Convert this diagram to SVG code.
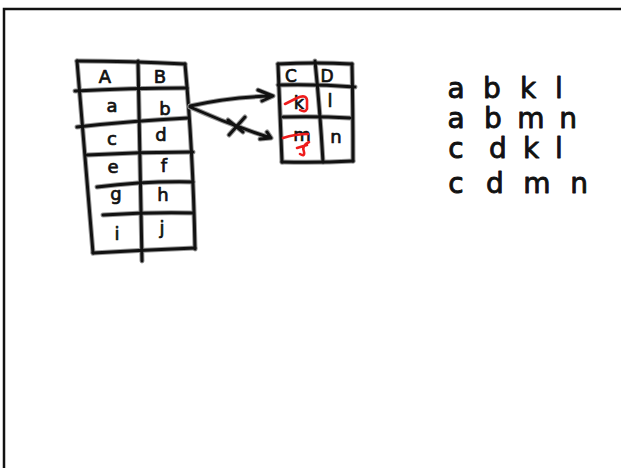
<svg xmlns="http://www.w3.org/2000/svg" width="621" height="468" viewBox="0 0 621 468">
<style>
.ln{fill:none;stroke:#111;stroke-width:3;stroke-linecap:round;stroke-linejoin:round}
.halo{fill:none;stroke:#9a9a9a;stroke-width:5;stroke-linecap:round;stroke-linejoin:round}
.red{fill:none;stroke:#ee1c1c;stroke-width:2.6;stroke-linecap:round;stroke-linejoin:round}
.t{font-family:"DejaVu Sans",sans-serif;fill:#111;stroke:#111;stroke-width:0.7;stroke-linejoin:round;text-anchor:middle}
.s{font-size:18px}
.m{font-size:17px}
.b{font-size:28px;stroke-width:0.9}
</style>
<rect width="621" height="468" fill="#fff"/>
<path d="M4,468 L4,9 L621,9" fill="none" stroke="#111" stroke-width="2.5"/>

<g id="tableAB">
  <g class="halo">
    <path d="M77,61 Q85,160 93,253"/><path d="M77,61 Q130,61 185,64"/><path d="M185,64 Q193,150 195,249"/><path d="M93,253 Q145,250 195,248"/>
    <path d="M138,61 Q140,160 142,261"/>
    <path d="M75,91 Q130,88 187,88"/><path d="M77,127 Q130,121 188,118"/><path d="M87,155 Q140,152 193,152"/><path d="M97,187 Q145,181 193,182"/><path d="M103,215 Q150,212 193,213"/>
  </g>
  <g class="ln">
    <path d="M77,61 Q85,160 93,253"/><path d="M77,61 Q130,61 185,64"/><path d="M185,64 Q193,150 195,249"/><path d="M93,253 Q145,250 195,248"/>
    <path d="M138,61 Q140,160 142,261"/>
    <path d="M75,91 Q130,88 187,88"/><path d="M77,127 Q130,121 188,118"/><path d="M87,155 Q140,152 193,152"/><path d="M97,187 Q145,181 193,182"/><path d="M103,215 Q150,212 193,213"/>
  </g>
  <text class="t s" x="105" y="83">A</text><text class="t s" x="160" y="83">B</text>
  <text class="t s" x="112" y="112">a</text><text class="t s" x="165" y="115">b</text>
  <text class="t s" x="112" y="145">c</text><text class="t s" x="161" y="141">d</text>
  <text class="t s" x="113" y="173">e</text><text class="t s" x="164" y="172">f</text>
  <text class="t s" x="116" y="200">g</text><text class="t s" x="163" y="201">h</text>
  <text class="t s" x="117" y="240">i</text><text class="t s" x="162" y="234">j</text>
</g>

<g id="tableCD">
  <g class="halo">
    <path d="M278,64 Q280,110 282,162"/><path d="M278,64 Q315,62 352,64"/><path d="M352,64 Q353,110 353,161"/><path d="M282,162 Q318,163 353,161"/>
    <path d="M315,61 Q320,110 323,162"/>
    <path d="M278,85 Q318,84 355,87"/><path d="M283,117 Q318,116 350,118"/>
  </g>
  <g class="ln">
    <path d="M278,64 Q280,110 282,162"/><path d="M278,64 Q315,62 352,64"/><path d="M352,64 Q353,110 353,161"/><path d="M282,162 Q318,163 353,161"/>
    <path d="M315,61 Q320,110 323,162"/>
    <path d="M278,85 Q318,84 355,87"/><path d="M283,117 Q318,116 350,118"/>
  </g>
  <text class="t m" x="291" y="82">C</text><text class="t m" x="327" y="82">D</text>
  <text class="t s" x="299" y="109">k</text><text class="t s" x="330" y="107">l</text>
  <text class="t s" x="302" y="141">m</text><text class="t s" x="336" y="143">n</text>
  <path class="red" d="M285,104 L297,98 Q306,94 307,100 L307,109 Q305,113 300,110"/>
  <path class="red" d="M283,138 Q295,134 308,134"/>
  <path class="red" d="M309,142 Q301,146 304,152 Q305,157 300,154 M297,148 L307,145"/>
</g>

<g id="connectors">
  <g class="halo">
    <path d="M190,106 Q230,97 273,96 M258,90 L273,96 L262,101"/>
    <path d="M190,107 Q230,125 271,138 M267,132 L271,138 L260,139"/>
    <path d="M229,135 L245,117 M228,120 L243,132"/>
  </g>
  <g class="ln">
    <path d="M190,106 Q230,97 273,96 M258,90 L273,96 L262,101"/>
    <path d="M190,107 Q230,125 271,138 M267,132 L271,138 L260,139"/>
    <path d="M229,135 L245,117 M228,120 L243,132"/>
  </g>
</g>

<g id="result">
  <text class="t b" x="456" y="98">a</text><text class="t b" x="492" y="98">b</text><text class="t b" x="528" y="98">k</text><text class="t b" x="559" y="98">l</text>
  <text class="t b" x="456" y="128">a</text><text class="t b" x="493" y="128">b</text><text class="t b" x="531" y="128">m</text><text class="t b" x="568" y="128">n</text>
  <text class="t b" x="456" y="158">c</text><text class="t b" x="498" y="158">d</text><text class="t b" x="531" y="158">k</text><text class="t b" x="559" y="158">l</text>
  <text class="t b" x="456" y="193">c</text><text class="t b" x="495" y="193">d</text><text class="t b" x="537" y="193">m</text><text class="t b" x="579" y="193">n</text>
</g>
</svg>
